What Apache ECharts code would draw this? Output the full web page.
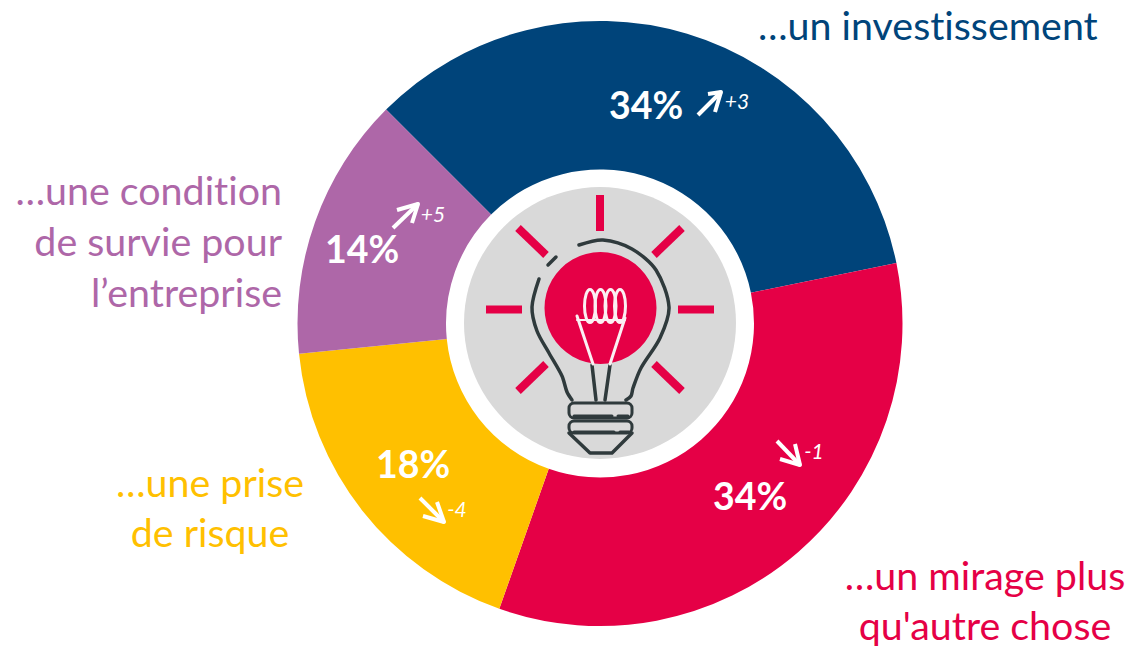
<!DOCTYPE html>
<html>
<head>
<meta charset="utf-8">
<style>
  html, body { margin: 0; padding: 0; background: #fff; }
  #chart { width: 1130px; height: 646px; }
  #chart text { font-variant-ligatures: none !important; font-feature-settings: "liga" 0, "clig" 0 !important; }
</style>
<script src="https://cdn.jsdelivr.net/npm/echarts@6/dist/echarts.min.js"></script>
</head>
<body>
<div id="chart"></div>
<script>
// data
var categories = ["…un investissement", "…un mirage plus\nqu'autre chose", "…une prise\nde risque", "…une condition\nde survie pour\nl’entreprise"];
var shares = [34.3, 33.6, 18, 14.1]; // labels show them rounded
var deltas = [3, -1, -4, 5];

var colors = ["#00447A", "#E50046", "#FFC000", "#AE67A8"];
var fontName = "Lato";
var ink = "#2F3A3C";
var glow = "#FBEFF3";

// where the texts go, same order as categories (y = first line)
var nameLayout = [
  { x: 758, y: 24, align: "left", gap: 50 },
  { x: 985, y: 574, align: "center", gap: 50 },
  { x: 210, y: 481, align: "center", gap: 50 },
  { x: 282, y: 189, align: "right", gap: 51 }
];
var shareLayout = [[646, 104], [750, 495], [413, 463], [362, 248]];
var deltaLayout = [[737, 100], [814, 450], [457, 508], [433, 213]];
// arrows: tail, tip, head end 1, head end 2
var arrowLayout = [
  [[698, 115], [721, 92], [708, 94], [715, 112]],
  [[777, 441], [800, 465], [780, 459], [795, 444]],
  [[420, 498], [444, 522], [423, 516], [437, 502]],
  [[393, 228], [418, 204], [397, 210], [412, 223]]
];

function line(points, color, width, cap, smooth) {
  return {
    type: "polyline",
    z: 20,
    silent: true,
    shape: { points: points, smooth: smooth || 0 },
    style: { stroke: color, fill: null, lineWidth: width, lineCap: cap || "round", lineJoin: "round" }
  };
}

function box(x, y, w, h) {
  return {
    type: "rect",
    z: 20,
    silent: true,
    shape: { x: x, y: y, width: w, height: h, r: 5 },
    style: { stroke: ink, fill: null, lineWidth: 3 }
  };
}

var graphics = [];

categories.forEach(function(name, i) {
  var n = nameLayout[i];
  name.split("\n").forEach(function(part, k) {
    graphics.push({
      type: "text", z: 20, silent: true, x: n.x, y: n.y + k * n.gap,
      style: {
        text: part, fill: colors[i], font: "39.4px " + fontName,
        align: n.align, verticalAlign: "middle", lineHeight: 40
      }
    });
  });
  graphics.push({
    type: "text", z: 20, silent: true, x: shareLayout[i][0], y: shareLayout[i][1],
    style: {
      text: Math.round(shares[i]) + "%", fill: "#fff", font: "bold 37.5px " + fontName,
      align: "center", verticalAlign: "middle"
    }
  });
  graphics.push({
    type: "text", z: 20, silent: true, x: deltaLayout[i][0], y: deltaLayout[i][1],
    style: {
      text: (deltas[i] > 0 ? "+" : "") + deltas[i], fill: "#fff", font: "italic 21px " + fontName,
      align: "center", verticalAlign: "middle"
    }
  });
  var a = arrowLayout[i];
  graphics.push(line([a[0], a[1]], "#fff", 4, "butt"));
  graphics.push(line([a[2], a[1], a[3]], "#fff", 4, "butt"));
});

// the bulb in the middle
graphics.push({
  type: "circle", z: 10, silent: true,
  shape: { cx: 600, cy: 323, r: 136 },
  style: { fill: "#D9D9D9" }
});
graphics.push({
  type: "circle", z: 11, silent: true,
  shape: { cx: 600.5, cy: 308, r: 56 },
  style: { fill: "#E50046" }
});
[
  [[600, 195], [600, 231]],
  [[486, 309.5], [522, 309.5]],
  [[678, 309.5], [714, 309.5]],
  [[518, 228], [546, 255]],
  [[682, 228], [654, 255]],
  [[546, 364], [518, 391]],
  [[654, 364], [682, 391]]
].forEach(function(ray) {
  graphics.push(line(ray, "#E50046", 8, "butt"));
});
// glass outline, right side then left side
graphics.push(line([[579, 245], [603, 240], [632, 249], [656, 270], [669, 307], [660, 338], [641, 368], [633, 388], [631, 396], [626, 400]], ink, 3.5, "round", 0.3));
graphics.push(line([[539, 279], [532, 307], [537, 331], [549, 353], [562, 376], [567, 392], [572, 400]], ink, 3.5, "round", 0.3));
graphics.push(line([[548, 265], [556, 257]], ink, 3.5));
graphics.push(line([[592, 365], [596, 400]], ink, 3.5));
graphics.push(line([[610, 365], [605, 400]], ink, 3.5));
graphics.push(box(569, 403, 63, 15));
graphics.push(box(569, 421, 63, 12));
graphics.push(line([[569, 433], [590, 453], [612, 453], [632, 433]], ink, 3.5));
graphics.push(line([[574, 416], [612, 416]], ink, 3));
graphics.push(line([[618, 416], [628, 416]], ink, 3));
graphics.push(line([[574, 432], [614, 432]], ink, 3));
graphics.push(line([[620, 432], [629, 432]], ink, 3));

// filament
graphics.push(line([[577, 316], [593, 364]], glow, 3));
graphics.push(line([[625, 318], [610, 364]], glow, 3));
graphics.push(line([[577, 320], [625, 320]], glow, 2));
[590, 600.5, 610.5, 620].forEach(function(cx) {
  graphics.push({
    type: "ellipse", z: 21, silent: true,
    shape: { cx: cx, cy: 306, rx: 5.5, ry: 16.5 },
    style: { stroke: glow, fill: null, lineWidth: 3 }
  });
});

var chart = echarts.init(document.getElementById("chart"), null, { renderer: "svg" });
chart.setOption({
  animation: false,
  graphic: { elements: graphics },
  series: [
    {
      type: "pie",
      center: [600, 323.5],
      radius: [154, 302.5],
      startAngle: 135,
      clockwise: true,
      silent: true,
      label: { show: false },
      labelLine: { show: false },
      data: categories.map(function(name, i) {
        return { name: name, value: shares[i], itemStyle: { color: colors[i] } };
      })
    }
  ]
});
</script>
</body>
</html>
